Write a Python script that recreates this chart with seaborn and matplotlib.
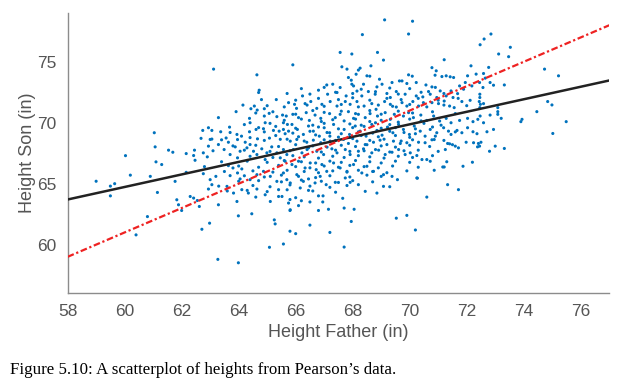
import numpy as np
import matplotlib
matplotlib.use("Agg")
import matplotlib.pyplot as plt
import seaborn as sns

far_left = [(59.0, 65.2), (59.5, 64.8), (59.5, 64.0), (59.65, 65.0), (60.03, 67.3),
            (60.2, 65.7), (60.4, 60.8), (60.8, 62.3), (62.0, 62.8), (60.9, 65.6)]

upper_left = [(63.12, 74.40), (64.64, 73.93), (64.72, 72.67), (64.70, 72.48), (65.32, 71.90),
              (65.75, 71.65), (64.15, 71.45), (64.55, 71.37), (63.91, 70.91), (64.43, 71.15),
              (64.65, 71.04), (64.90, 71.15), (65.07, 70.77), (64.90, 70.55), (65.34, 70.50),
              (65.54, 70.63), (65.67, 70.55), (63.29, 70.42), (64.38, 70.36), (63.68, 69.64),
              (64.93, 70.00), (65.57, 70.00), (65.71, 69.86), (64.40, 70.00), (62.74, 69.37),
              (62.94, 69.59), (63.06, 69.37), (61.04, 69.18), (63.37, 69.26), (63.94, 69.04),
              (64.38, 69.26), (64.61, 69.45), (64.87, 69.51), (65.22, 69.37), (65.42, 69.31),
              (65.57, 69.45), (65.75, 69.31), (65.63, 69.10), (62.68, 68.72), (63.06, 68.66),
              (63.56, 68.75), (63.96, 68.62), (64.40, 68.78), (64.66, 68.68), (65.08, 68.74),
              (65.46, 68.64)]

upper_mid = [(69.12, 78.44), (70.10, 78.33), (68.34, 77.23), (69.96, 77.28), (67.56, 75.77),
             (67.97, 75.64), (68.87, 75.77), (69.08, 75.14), (65.90, 74.75), (67.62, 74.59),
             (67.80, 74.40), (68.26, 74.48), (68.20, 74.32), (68.64, 74.67), (68.12, 73.98),
             (67.85, 73.71), (67.95, 73.49), (68.50, 73.85), (68.60, 73.82), (68.94, 73.57),
             (69.96, 73.93), (70.09, 73.82), (67.09, 73.10), (67.30, 73.16), (67.56, 72.89),
             (67.97, 73.16), (68.03, 73.02), (68.38, 73.16), (68.85, 72.94), (69.03, 73.16),
             (69.38, 73.30), (69.64, 73.43), (69.73, 73.43), (69.90, 73.22), (70.23, 73.30),
             (70.57, 73.10), (66.24, 72.20), (66.80, 72.67), (67.12, 72.34), (67.45, 72.48),
             (67.77, 72.20), (68.15, 72.60), (68.32, 72.20), (68.55, 72.56), (68.79, 72.34),
             (69.20, 72.40), (69.32, 72.07), (69.53, 72.56), (69.84, 72.34), (70.23, 72.20),
             (70.46, 72.12), (70.66, 72.56), (65.96, 71.51), (66.03, 71.18), (66.33, 71.57),
             (66.53, 71.74), (66.74, 71.18), (66.92, 71.51), (67.21, 71.74), (67.45, 71.37),
             (67.74, 71.74), (67.91, 71.51), (68.15, 71.74), (68.40, 71.37), (68.67, 71.57),
             (68.82, 71.10), (69.12, 71.74), (69.32, 71.51), (69.53, 71.29), (69.73, 71.65),
             (69.90, 71.37), (70.11, 71.74), (70.31, 71.37), (70.48, 71.65), (65.90, 70.69),
             (66.10, 70.42), (66.37, 70.83), (66.48, 70.19), (66.68, 70.63), (66.88, 70.36),
             (67.19, 70.75), (67.39, 70.42), (67.56, 70.69), (67.85, 70.91), (68.03, 70.36),
             (68.20, 70.69), (68.44, 70.42), (68.61, 70.75), (68.87, 70.55), (69.14, 70.83),
             (69.32, 70.28), (69.46, 70.69), (69.78, 70.55), (69.96, 70.83), (70.13, 70.42),
             (70.39, 70.63), (70.60, 70.19), (65.87, 69.86), (66.06, 69.45), (66.27, 69.04),
             (66.45, 69.73), (66.62, 69.31), (66.83, 68.90), (67.00, 69.59), (67.19, 69.18),
             (67.33, 69.86), (67.50, 68.82), (67.70, 69.45), (67.89, 69.04), (68.09, 69.73),
             (68.26, 69.31), (68.47, 68.90), (68.67, 69.86), (68.85, 69.37), (69.03, 68.98),
             (69.22, 69.64), (69.41, 69.18), (69.61, 69.86), (69.78, 69.45), (69.99, 69.04),
             (70.16, 69.73), (70.37, 69.31), (70.54, 68.90)]

upper_right = [(72.85, 77.28), (72.61, 76.87), (72.47, 76.40), (73.53, 76.19), (73.12, 75.64),
               (73.47, 75.42), (71.21, 75.17), (72.15, 74.67), (74.73, 74.40), (75.22, 73.85),
               (70.78, 74.52), (70.93, 74.26), (70.89, 73.90), (71.13, 73.79), (71.28, 73.85),
               (71.42, 73.77), (71.54, 73.71), (72.03, 73.85), (72.33, 73.99), (72.59, 74.04),
               (72.65, 73.66), (72.77, 74.54), (71.95, 73.30), (71.75, 73.02), (71.89, 72.75),
               (72.18, 73.02), (72.45, 73.30), (72.57, 72.89), (72.82, 73.30), (72.94, 73.08),
               (73.32, 73.10), (70.78, 72.94), (70.72, 72.34), (70.95, 72.07), (71.07, 72.61),
               (71.28, 72.20), (71.45, 72.61), (71.52, 72.07), (71.68, 72.39), (72.46, 72.34),
               (72.46, 72.07), (72.44, 71.74), (72.48, 71.51), (72.46, 71.24), (72.12, 71.84),
               (72.59, 71.57), (70.78, 71.65), (71.01, 71.57), (71.21, 71.78), (71.40, 71.37),
               (71.56, 71.24), (71.83, 71.74), (73.09, 71.24), (73.09, 70.91), (73.09, 70.69),
               (72.82, 70.63), (73.21, 70.36), (73.94, 70.28), (73.90, 70.09), (74.46, 70.91),
               (74.84, 71.74), (74.99, 71.46), (75.49, 70.09), (75.02, 69.12), (70.84, 70.55),
               (71.05, 70.14), (71.28, 70.36), (71.45, 70.00), (71.75, 70.19), (72.03, 70.36),
               (72.22, 70.09), (72.39, 70.28), (72.47, 70.55), (72.59, 70.00), (70.72, 69.45),
               (70.95, 69.18), (71.19, 69.59), (71.36, 69.31), (71.45, 69.04), (71.66, 69.37),
               (71.83, 69.18), (72.03, 69.59), (72.22, 69.26), (72.36, 69.10), (72.71, 69.26),
               (72.94, 69.45)]

lower_left = [(61.07, 68.02), (61.54, 67.75), (61.69, 67.58), (61.10, 66.79), (61.30, 66.57),
              (62.16, 67.47), (62.45, 67.75), (62.42, 67.31), (62.47, 66.92), (62.76, 67.53),
              (62.94, 68.08), (63.00, 68.63), (63.29, 68.21), (63.49, 67.80), (63.70, 67.39),
              (63.64, 68.40), (63.88, 68.02), (64.05, 67.66), (63.96, 67.12), (64.23, 68.40),
              (64.29, 67.94), (64.40, 68.21), (64.52, 67.66), (64.64, 67.39), (64.81, 67.86),
              (64.99, 67.53), (64.93, 66.98), (65.16, 68.02), (65.34, 67.53), (65.46, 67.12),
              (65.57, 67.80), (65.69, 67.39), (65.63, 66.84), (62.16, 65.93), (61.77, 65.19),
              (61.15, 64.28), (62.76, 65.82), (63.00, 65.33), (63.06, 64.92), (62.94, 64.56),
              (62.30, 63.95), (62.42, 63.82), (62.55, 63.62), (61.89, 63.27), (61.83, 63.68),
              (62.62, 63.13), (63.29, 63.27), (63.64, 66.48), (63.80, 66.29), (63.70, 65.66),
              (63.96, 65.88), (64.11, 66.21), (64.05, 65.39), (63.59, 64.78), (63.82, 64.23),
              (64.11, 64.51), (63.94, 63.54), (64.40, 65.33), (64.64, 65.74), (64.87, 66.01),
              (65.11, 65.60), (65.34, 65.19), (65.57, 65.88), (65.69, 65.33), (64.34, 64.23),
              (64.64, 64.56), (64.93, 64.09), (65.11, 63.54), (65.40, 64.51), (65.52, 63.95),
              (65.75, 63.41), (65.81, 62.86), (63.99, 62.36), (64.46, 62.53), (62.71, 61.26),
              (62.98, 61.76), (65.08, 59.78), (65.57, 60.05), (65.25, 62.03), (65.28, 61.70),
              (63.27, 58.79), (63.99, 58.51)]

lower_mid = [(65.81, 68.49), (66.04, 68.63), (66.39, 68.40), (66.62, 68.57), (66.88, 68.36),
             (67.21, 68.49), (67.68, 68.63), (67.85, 68.30), (68.15, 68.49), (68.44, 68.21),
             (68.73, 68.40), (68.96, 68.57), (69.20, 68.21), (69.43, 68.49), (69.67, 68.30),
             (69.90, 68.36), (70.31, 68.40), (70.54, 68.36), (65.92, 67.80), (66.22, 67.53),
             (66.45, 67.94), (66.74, 67.66), (66.98, 67.39), (67.27, 67.86), (67.45, 67.53),
             (67.74, 67.80), (67.91, 67.39), (68.20, 67.66), (68.38, 67.86), (68.67, 67.53),
             (68.91, 67.75), (69.14, 67.39), (69.38, 67.58), (69.61, 67.80), (69.84, 67.39),
             (70.02, 67.53), (70.25, 67.31), (70.43, 66.98), (70.60, 66.98), (65.87, 66.57),
             (66.10, 66.84), (66.33, 66.29), (66.51, 66.70), (66.72, 66.15), (66.92, 66.57),
             (67.09, 66.01), (67.33, 66.70), (67.56, 66.29), (67.80, 66.01), (68.03, 66.57),
             (68.32, 65.88), (68.50, 66.43), (68.73, 66.01), (69.08, 65.74), (69.38, 65.60),
             (69.57, 65.33), (69.08, 64.78), (68.85, 64.23), (66.04, 65.74), (66.27, 65.19),
             (66.45, 65.39), (66.68, 65.06), (66.86, 65.60), (67.07, 64.92), (67.39, 65.11),
             (67.74, 65.47), (67.91, 65.11), (68.20, 64.92), (68.44, 64.37), (66.16, 64.65),
             (66.45, 64.45), (65.81, 65.06), (70.25, 65.47), (70.27, 65.45), (70.60, 63.90),
             (69.53, 62.17), (65.80, 63.70), (66.20, 63.60), (66.50, 63.50), (66.95, 63.50),
             (66.96, 64.00), (67.65, 63.80), (65.80, 62.80), (66.10, 63.20), (66.80, 62.80),
             (67.15, 62.90), (67.70, 63.00), (68.05, 62.90), (65.80, 61.10), (66.00, 60.90),
             (66.50, 61.60), (67.20, 61.00), (67.70, 59.80), (67.95, 61.90), (69.90, 62.40),
             (70.20, 61.20)]

lower_right = [(70.78, 68.60), (70.86, 68.62), (71.33, 68.30), (71.40, 68.27), (71.25, 67.80),
               (71.60, 68.08), (71.71, 67.94), (71.98, 68.40), (72.24, 68.36), (72.41, 68.30),
               (72.50, 68.40), (72.45, 68.08), (72.38, 68.02), (72.80, 67.66), (73.00, 68.08),
               (73.32, 67.89), (70.72, 66.84), (70.86, 66.10), (71.16, 66.37), (71.21, 66.37),
               (71.87, 66.43), (72.20, 66.76), (71.33, 64.92), (71.71, 64.51)]

# the crowded middle of the cloud, filled in by eye
core_high = [(65.6, 70.2), (66.2, 70.3), (66.9, 70.1), (67.3, 70.25), (67.7, 70.15), (68.1, 70.3),
             (68.6, 70.1), (69.0, 70.2), (69.6, 70.05), (70.0, 70.3), (70.4, 70.15),
             (64.2, 69.85), (65.1, 69.95), (66.6, 69.8), (67.0, 69.95), (67.9, 69.9), (68.3, 69.8),
             (68.8, 70.0), (69.3, 69.85), (70.5, 69.95), (71.1, 69.8),
             (64.7, 69.6), (65.3, 69.7), (66.0, 69.55), (66.8, 69.65), (67.5, 69.5), (68.0, 69.6),
             (68.4, 69.7), (69.0, 69.55), (69.5, 69.6), (70.2, 69.5), (70.8, 69.65),
             (63.7, 69.2), (64.9, 69.25), (65.9, 69.15), (66.5, 69.3), (67.1, 69.2), (67.6, 69.1),
             (68.2, 69.25), (68.7, 69.15), (69.3, 69.3), (69.8, 69.2), (70.2, 69.1), (71.6, 69.25),
             (64.1, 68.9), (65.3, 68.95), (66.1, 68.85), (66.7, 69.0), (67.2, 68.9), (67.9, 68.8),
             (68.3, 68.95), (68.9, 68.85), (69.5, 68.95), (70.0, 68.8), (70.9, 68.9),
             (64.6, 70.8), (65.2, 70.9), (66.0, 70.7), (66.6, 71.0), (67.0, 70.85), (67.6, 70.95),
             (68.1, 70.75), (68.6, 71.0), (69.0, 70.7), (69.6, 70.95), (70.1, 70.8), (70.8, 70.9),
             (71.6, 70.75),
             (65.0, 71.4), (65.6, 71.3), (66.4, 71.45), (67.0, 71.35), (67.6, 71.5), (68.2, 71.3),
             (68.9, 71.45), (69.4, 71.35), (70.0, 71.5), (70.6, 71.3), (71.2, 71.45), (72.0, 71.4),
             (64.8, 71.9), (66.0, 71.85), (66.8, 72.0), (67.5, 71.9), (68.0, 72.05), (68.6, 71.85),
             (69.2, 72.0), (69.7, 71.9), (70.3, 72.0), (71.0, 71.85), (71.7, 72.0),
             (65.7, 72.4), (66.5, 72.35), (67.4, 72.5), (68.0, 72.4), (68.8, 72.55), (69.6, 72.35),
             (70.4, 72.5), (71.2, 72.4),
             (66.2, 72.8), (67.0, 72.9), (68.3, 72.75), (69.3, 72.85), (70.0, 72.8), (70.9, 72.9)]

core_low = [(63.4, 68.6), (64.9, 68.55), (65.7, 68.65), (66.3, 68.5), (67.0, 68.6), (67.4, 68.55),
            (68.0, 68.7), (68.6, 68.55), (69.1, 68.65), (69.7, 68.5), (70.1, 68.6), (71.2, 68.55),
            (63.8, 68.1), (64.6, 68.15), (65.4, 68.05), (66.0, 68.2), (66.6, 68.1), (67.1, 68.0),
            (67.6, 68.15), (68.1, 68.05), (68.5, 68.2), (69.0, 68.1), (69.5, 68.0), (70.0, 68.15),
            (70.7, 68.05), (71.5, 68.2),
            (63.1, 67.7), (64.2, 67.75), (65.1, 67.65), (65.8, 67.7), (66.4, 67.8), (66.9, 67.6),
            (67.4, 67.75), (67.9, 67.65), (68.4, 67.7), (68.8, 67.8), (69.3, 67.6), (69.8, 67.7),
            (70.3, 67.75), (71.0, 67.65),
            (62.9, 67.2), (64.4, 67.25), (65.2, 67.15), (65.9, 67.3), (66.3, 67.2), (66.8, 67.1),
            (67.3, 67.25), (67.7, 67.15), (68.2, 67.3), (68.6, 67.2), (69.1, 67.1), (69.6, 67.25),
            (70.1, 67.15), (70.8, 67.3),
            (63.4, 66.8), (64.3, 66.85), (65.0, 66.75), (65.6, 66.9), (66.2, 66.8), (66.7, 66.7),
            (67.2, 66.85), (67.6, 66.75), (68.1, 66.9), (68.6, 66.8), (69.0, 66.7), (69.5, 66.85),
            (70.0, 66.75), (71.3, 66.8),
            (62.8, 66.4), (64.0, 66.45), (64.7, 66.35), (65.4, 66.5), (66.0, 66.4), (66.5, 66.3),
            (67.0, 66.45), (67.5, 66.35), (67.9, 66.5), (68.4, 66.4), (68.9, 66.3), (69.4, 66.45),
            (70.3, 66.35),
            (63.5, 66.0), (64.5, 66.05), (65.2, 65.95), (65.7, 66.1), (66.3, 66.0), (66.8, 65.9),
            (67.3, 66.05), (67.8, 65.95), (68.2, 66.1), (68.7, 66.0), (69.2, 65.9), (69.9, 66.05),
            (63.2, 65.6), (64.2, 65.65), (64.9, 65.55), (65.5, 65.7), (66.1, 65.6), (66.7, 65.5),
            (67.2, 65.65), (67.9, 65.55), (68.5, 65.7), (69.0, 65.6),
            (64.0, 65.2), (64.7, 65.25), (65.5, 65.15), (66.2, 65.3), (66.9, 65.2), (67.5, 65.1),
            (68.0, 65.25), (68.7, 65.15),
            (63.3, 64.8), (64.5, 64.85), (65.1, 64.75), (65.8, 64.9), (66.5, 64.8), (67.2, 64.7),
            (67.8, 64.85), (69.3, 64.75),
            (63.6, 64.4), (64.3, 64.45), (65.0, 64.35), (65.7, 64.5), (66.6, 64.4), (67.4, 64.3),
            (64.6, 63.9), (65.4, 63.95), (66.0, 63.85), (66.8, 64.0)]

# fitted lines
ls_intercept, ls_slope = 33.89, 0.514     # least squares (black)
sd_intercept, sd_slope = 1.0, 1.0         # y = x + 1 (red dash-dot)

pairs = (far_left + upper_left + upper_mid + upper_right + lower_left + lower_mid
         + lower_right + core_high + core_low)
father = np.array([p[0] for p in pairs])
son = np.array([p[1] for p in pairs])

sns.set_style("white")
plt.rcParams["font.family"] = ["Liberation Sans", "DejaVu Sans"]

fig = plt.figure(figsize=(6.32, 3.84), dpi=100)
ax = fig.add_axes([0.107, 0.236, 0.857, 0.730])

sns.scatterplot(x=father, y=son, ax=ax, s=5, color="#0072BD",
                edgecolor="none", linewidth=0, zorder=2)

xs = np.array([58, 77])
ax.plot(xs, ls_intercept + ls_slope * xs, color="#222222", linewidth=1.8, zorder=3)
ax.plot(xs, sd_intercept + sd_slope * xs, color="#ee2222", linewidth=1.6,
        linestyle=(0, (3, 1.2, 1, 1.2)), zorder=3)

ax.set_xlim(58, 77)
ax.set_ylim(56, 79)
ax.set_xticks(range(58, 77, 2))
ax.set_yticks([60, 65, 70, 75])

gray = "#8c8c8c"
for side in ["top", "right"]:
    ax.spines[side].set_visible(False)
for side in ["left", "bottom"]:
    ax.spines[side].set_color(gray)
    ax.spines[side].set_linewidth(1.0)
ax.tick_params(direction="in", length=4, width=1, color=gray,
               labelcolor="#555555", labelsize=12.5, pad=8)

ax.set_xlabel("Height Father (in)", fontsize=13, color="#555555", labelpad=3)
ax.set_ylabel("Height Son (in)", fontsize=13, color="#555555", labelpad=1)

fig.text(0.016, 0.025, "Figure 5.10: A scatterplot of heights from Pearson\u2019s data.",
         family=["Liberation Serif", "DejaVu Serif"], fontsize=12.2, color="black")

fig.savefig("out.png", dpi=100)
